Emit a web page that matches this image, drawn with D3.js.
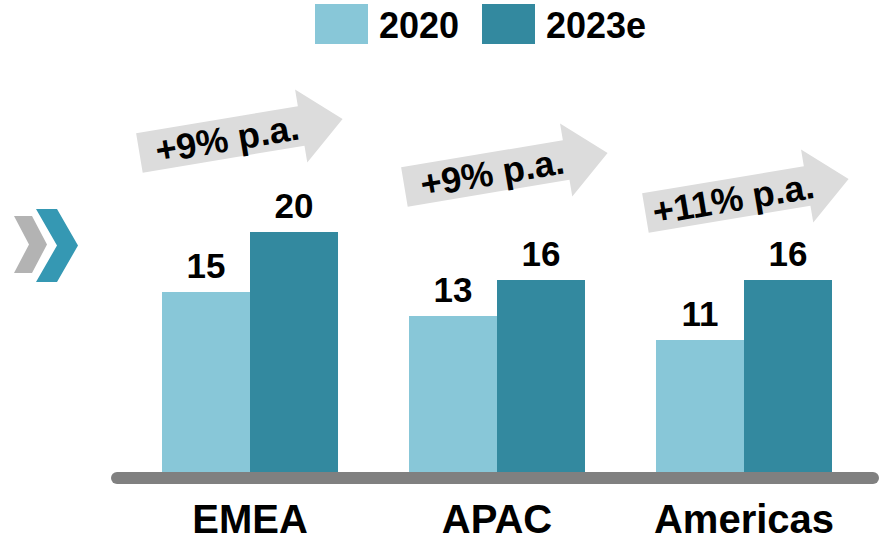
<!DOCTYPE html>
<html>
<head>
<meta charset="utf-8">
<script src="https://cdn.jsdelivr.net/npm/d3@7"></script>
<style>
  html, body { margin: 0; padding: 0; background: #ffffff; }
  svg { display: block; font-family: "Liberation Sans", Arial, sans-serif; }
</style>
</head>
<body>
<svg id="chart" width="880" height="539"></svg>
<script>
// Market size by region, 2020 vs 2023 estimate
const categories = ["EMEA", "APAC", "Americas"];
const seriesNames = ["2020", "2023e"];
const values2020 = [15, 13, 11];
const values2023e = [20, 16, 16];
const growthLabels = ["+9% p.a.", "+9% p.a.", "+11% p.a."];

const colors = { "2020": "#88c7d8", "2023e": "#33899f" };

const svg = d3.select("#chart");

const baseY = 472;
const x0 = d3.scaleBand().domain(categories).range([162, 832]).paddingInner(0.2874).paddingOuter(0);
const x1 = d3.scaleBand().domain(seriesNames).range([0, x0.bandwidth()]).padding(0);
const y = d3.scaleLinear().domain([0, 20]).range([baseY, 232]);

const rows = categories.map((c, i) => ({
  cat: c,
  vals: [
    { key: "2020", value: values2020[i] },
    { key: "2023e", value: values2023e[i] }
  ]
}));

// Bars
const groups = svg.selectAll("g.grp").data(rows).enter().append("g")
  .attr("class", "grp")
  .attr("transform", d => `translate(${x0(d.cat)},0)`);

groups.selectAll("rect").data(d => d.vals).enter().append("rect")
  .attr("x", d => x1(d.key))
  .attr("y", d => y(d.value))
  .attr("width", x1.bandwidth())
  .attr("height", d => baseY - y(d.value))
  .attr("fill", d => colors[d.key]);

// Value labels
groups.selectAll("text.val").data(d => d.vals).enter().append("text")
  .attr("class", "val")
  .attr("x", d => x1(d.key) + x1.bandwidth() / 2)
  .attr("y", d => y(d.value) - 14)
  .attr("text-anchor", "middle")
  .attr("font-size", 35)
  .attr("font-weight", "bold")
  .attr("fill", "#000")
  .text(d => d.value);

// Baseline bar
svg.append("line")
  .attr("x1", 117).attr("x2", 873)
  .attr("y1", 478).attr("y2", 478)
  .attr("stroke", "#808080")
  .attr("stroke-width", 12)
  .attr("stroke-linecap", "round");

// Category axis
const xAxis = svg.append("g")
  .attr("transform", `translate(0,${baseY})`)
  .call(d3.axisBottom(x0).tickSize(0).tickPadding(33));
xAxis.select(".domain").remove();
xAxis.selectAll("text")
  .attr("font-size", 40)
  .attr("font-weight", "bold")
  .attr("font-family", "'Liberation Sans', Arial, sans-serif")
  .attr("fill", "#000");

// Legend
const legendItems = [
  { key: "2020", x: 315 },
  { key: "2023e", x: 482 }
];
const legend = svg.append("g");
legendItems.forEach(it => {
  legend.append("rect")
    .attr("x", it.x).attr("y", 4)
    .attr("width", 53).attr("height", 40)
    .attr("fill", colors[it.key]);
  legend.append("text")
    .attr("x", it.x + 64).attr("y", 38)
    .attr("font-size", 36)
    .attr("font-weight", "bold")
    .attr("fill", "#000")
    .text(it.key);
});

// Growth arrows above each region
const arrowLayout = [
  { dx: -9, cy: 136 },
  { dx: 9, cy: 170 },
  { dx: 3, cy: 196 }
];
const arrowLen = 206, shaftHalf = 20, headHalf = 37, headLen = 42, angle = -9.5;
const arrowPath = [
  [0, -shaftHalf], [arrowLen - headLen, -shaftHalf], [arrowLen - headLen, -headHalf],
  [arrowLen, 0], [arrowLen - headLen, headHalf], [arrowLen - headLen, shaftHalf], [0, shaftHalf]
];
const arrows = svg.selectAll("g.arrow").data(categories).enter().append("g")
  .attr("class", "arrow")
  .attr("transform", (c, i) => {
    const cx = x0(c) + x0.bandwidth() / 2 + arrowLayout[i].dx;
    return `translate(${cx},${arrowLayout[i].cy}) rotate(${angle})`;
  });
arrows.append("path")
  .attr("d", d3.line()(arrowPath.map(p => [p[0] - arrowLen / 2, p[1]])) + "Z")
  .attr("fill", "#dcdcdc");
arrows.append("text")
  .attr("x", -14)
  .attr("y", 13)
  .attr("text-anchor", "middle")
  .attr("font-size", 36)
  .attr("font-weight", "bold")
  .attr("fill", "#000")
  .text((c, i) => growthLabels[i]);

// Chevron marker on the left
const chevron = (x, y0, w, h) => {
  const mid = y0 + h / 2, tip = 15;
  return `M${x},${y0} L${x + w},${y0} L${x + w + tip},${mid} L${x + w},${y0 + h} L${x},${y0 + h} L${x + tip},${mid} Z`;
};
svg.append("path").attr("d", chevron(14, 216, 18, 57)).attr("fill", "#b3b3b3");
svg.append("path").attr("d", "M36,209 L57,209 L78,245.5 L57,282 L36,282 L57,245.5 Z").attr("fill", "#3598b3");
</script>
</body>
</html>
